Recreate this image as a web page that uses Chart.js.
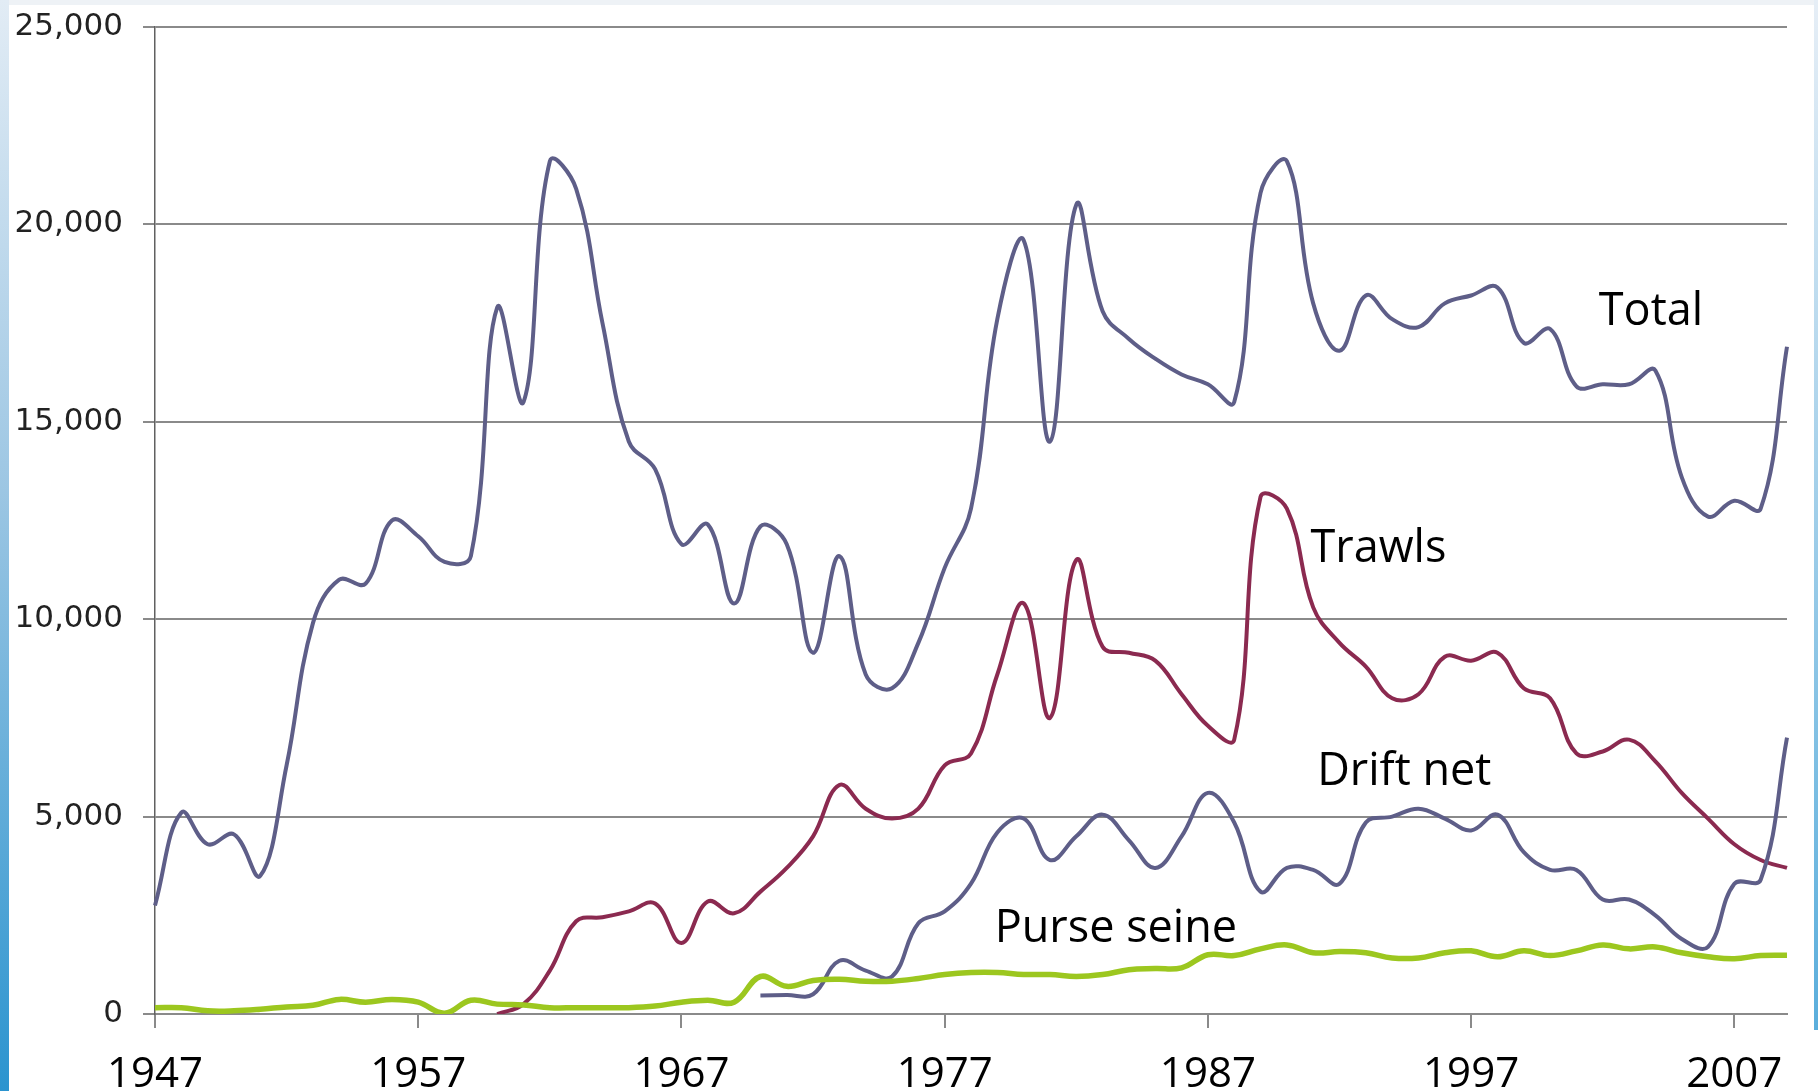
<!DOCTYPE html>
<html>
<head>
<meta charset="utf-8">
<script src="https://cdn.jsdelivr.net/npm/chart.js@4.4.1/dist/chart.umd.min.js"></script>
<style>
  html, body { margin: 0; padding: 0; background: #fff; }
  #wrap { position: relative; width: 1818px; height: 1091px; overflow: hidden; background: #fff; }
  #topband { position: absolute; left: 0; top: 0; width: 1818px; height: 5px; background: #eef2f6; }
  #leftbar { position: absolute; left: 0; top: 0; width: 9px; height: 1091px;
             background: linear-gradient(#e2ecf5, #9cc6e3 45%, #2b94cf); }
  #rightbar { position: absolute; right: 0; top: 0; width: 4px; height: 1030px;
              background: linear-gradient(#e6eef6, #5aaedc); }
  canvas { position: absolute; left: 0; top: 0; }
</style>
</head>
<body>
<div id="wrap">
  <div id="topband"></div>
  <div id="leftbar"></div>
  <div id="rightbar"></div>
  <canvas id="chart" width="1818" height="1091"></canvas>
</div>
<script>
// years on the category axis
const years = [
  1947, 1948, 1949, 1950, 1951, 1952, 1953, 1954, 1955, 1956,
  1957, 1958, 1959, 1960, 1961, 1962, 1963, 1964, 1965, 1966,
  1967, 1968, 1969, 1970, 1971, 1972, 1973, 1974, 1975, 1976,
  1977, 1978, 1979, 1980, 1981, 1982, 1983, 1984, 1985, 1986,
  1987, 1988, 1989, 1990, 1991, 1992, 1993, 1994, 1995, 1996,
  1997, 1998, 1999, 2000, 2001, 2002, 2003, 2004, 2005, 2006,
  2007, 2008, 2009
];

// only these years get a label and a tick mark
const yearLabels = [1947, 1957, 1967, 1977, 1987, 1997, 2007];

const seriesNames = ['Total', 'Trawls', 'Drift net', 'Purse seine'];

const total = [
  2750, 5100, 4300, 4550, 3500, 6300, 9900, 11000, 10900, 12500,
  12100, 11450, 11600, 17900, 15500, 21600, 20900, 17500, 14500, 13800,
  11900, 12400, 10400, 12350, 11900, 9150, 11600, 8600, 8250, 9400,
  11300, 12800, 17600, 19600, 14500, 20500, 17800, 17100, 16600, 16200,
  15950, 15500, 20800, 21600, 18000, 16800, 18200, 17600, 17400, 18000,
  18200, 18400, 17000, 17350, 15900, 15950, 15950, 16300, 13600, 12600,
  13000, 12800, 16900
];

const trawls = [
  null, null, null, null, null, null, null, null, null, null,
  null, null, null, 0, 250, 1100, 2350, 2450, 2600, 2800,
  1800, 2850, 2550, 3100, 3700, 4500, 5800, 5200, 4950, 5200,
  6300, 6600, 8600, 10400, 7500, 11500, 9300, 9150, 8950, 8100,
  7300, 6950, 13100, 12800, 10300, 9400, 8800, 8000, 8100, 9050,
  8950, 9150, 8250, 8000, 6600, 6650, 6950, 6400, 5600, 4950,
  4300, 3900, 3700
];

const driftNet = [
  null, null, null, null, null, null, null, null, null, null,
  null, null, null, null, null, null, null, null, null, null,
  null, null, null, 470, 480, 500, 1350, 1100, 950, 2300,
  2600, 3300, 4600, 4950, 3900, 4500, 5050, 4400, 3700, 4500,
  5600, 4850, 3100, 3700, 3650, 3300, 4850, 5000, 5200, 4950,
  4650, 5050, 4100, 3650, 3650, 2900, 2900, 2500, 1900, 1700,
  3300, 3400, 7000
];

const purseSeine = [
  160, 160, 80, 80, 120, 180, 220, 370, 300, 370,
  300, 20, 350, 250, 230, 160, 160, 160, 160, 200,
  300, 350, 300, 950, 700, 850, 880, 830, 830, 900,
  1000, 1050, 1050, 1000, 1000, 950, 1000, 1120, 1150, 1170,
  1500, 1480, 1650, 1750, 1550, 1580, 1550, 1420, 1420, 1550,
  1600, 1450, 1600, 1480, 1600, 1750, 1650, 1700, 1550, 1450,
  1400, 1480, 1490
];

// text labels next to the lines, placed in data units (year, value)
const labelSpots = [
  { text: seriesNames[0], year: 2001.85, value: 17460 },
  { text: seriesNames[1], year: 1990.9, value: 11450 },
  { text: seriesNames[2], year: 1991.15, value: 5800 },
  { text: seriesNames[3], year: 1978.9, value: 1825 }
];

const seriesLabelPlugin = {
  id: 'seriesLabels',
  afterDatasetsDraw(chart) {
    const { ctx, scales: { x, y } } = chart;
    ctx.save();
    ctx.font = '45px "Open Sans"';
    ctx.fillStyle = '#000';
    ctx.textAlign = 'left';
    ctx.textBaseline = 'alphabetic';
    labelSpots.forEach(l => {
      ctx.fillText(l.text, x.getPixelForValue(l.year - years[0]), y.getPixelForValue(l.value));
    });
    ctx.restore();
  }
};

const ctx = document.getElementById('chart').getContext('2d');
new Chart(ctx, {
  type: 'line',
  data: {
    labels: years,
    datasets: [
      { label: seriesNames[3], data: purseSeine, borderColor: '#9cc71f', borderWidth: 5.5 },
      { label: seriesNames[2], data: driftNet, borderColor: '#5e5e88', borderWidth: 4 },
      { label: seriesNames[1], data: trawls, borderColor: '#8b2a50', borderWidth: 4 },
      { label: seriesNames[0], data: total, borderColor: '#5e5e88', borderWidth: 4 }
    ]
  },
  options: {
    responsive: false,
    animation: false,
    elements: {
      point: { radius: 0 },
      line: { tension: 0.4, fill: false }
    },
    layout: { padding: { top: 27, right: 31, left: 0, bottom: 0 } },
    plugins: {
      legend: { display: false },
      tooltip: { enabled: false }
    },
    scales: {
      x: {
        ticks: {
          autoSkip: false,
          maxRotation: 0,
          minRotation: 0,
          padding: 22,
          color: '#000',
          font: { family: 'Open Sans', size: 42 },
          callback: (v, i) => yearLabels.includes(years[i]) ? String(years[i]) : ''
        },
        grid: {
          drawOnChartArea: false,
          drawTicks: true,
          tickLength: 14,
          lineWidth: 2,
          color: c => (c.tick && yearLabels.includes(years[c.index])) ? '#8a8a8a' : 'rgba(0,0,0,0)'
        },
        border: { display: true, color: '#8a8a8a', width: 2 },
        afterFit: s => { s.height = 77; s.paddingLeft = 0; s.paddingRight = 0; }
      },
      y: {
        min: 0,
        max: 25000,
        ticks: {
          stepSize: 5000,
          padding: 20,
          color: '#222',
          font: { family: 'DejaVu Sans', size: 31 },
          callback: v => v.toLocaleString('en-US')
        },
        grid: { color: '#8a8a8a', lineWidth: 2, tickLength: 12 },
        border: { display: true, color: '#606060', width: 1.5 },
        afterFit: s => { s.width = 155; s.paddingTop = 0; s.paddingBottom = 0; }
      }
    }
  },
  plugins: [seriesLabelPlugin]
});
</script>
</body>
</html>
